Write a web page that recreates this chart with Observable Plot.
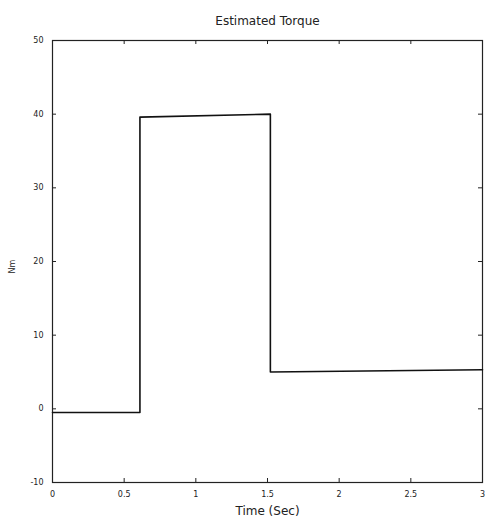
<!DOCTYPE html>
<html>
<head>
<meta charset="utf-8">
<script src="https://cdn.jsdelivr.net/npm/d3@7"></script>
<script src="https://cdn.jsdelivr.net/npm/@observablehq/plot@0.6"></script>
<style>
body { margin: 0; background: #fff; }
#chart svg { display: block; }
</style>
</head>
<body>
<div id="chart"></div>
<script>
const title = "Estimated Torque";
const xLabel = "Time (Sec)";
const yLabel = "Nm";
const xTicks = [0, 0.5, 1, 1.5, 2, 2.5, 3];
const yTicks = [-10, 0, 10, 20, 30, 40, 50];
const time = [0, 0.61, 0.61, 1.52, 1.52, 3];
const torque = [-0.5, -0.5, 39.6, 40.0, 5.0, 5.3];

const data = time.map((t, i) => ({t, v: torque[i]}));
const fmt = d => String(d);

const plot = Plot.plot({
  width: 485,
  height: 528,
  marginTop: 40,
  marginBottom: 46,
  marginLeft: 52,
  marginRight: 3,
  style: {fontFamily: "DejaVu Sans, sans-serif", fontSize: "8px", background: "#fff", color: "#222"},
  x: {domain: [0, 3], label: null},
  y: {domain: [-10, 50], label: null},
  marks: [
    Plot.frame({stroke: "#222", strokeWidth: 1.2}),
    Plot.axisX({ticks: xTicks, tickSize: 0, tickPadding: 9, tickFormat: fmt, label: null, fontSize: 8}),
    Plot.axisY({ticks: yTicks, tickSize: 0, tickPadding: 9, tickFormat: fmt, label: null, fontSize: 8}),
    Plot.tickX(xTicks, {x: d => d, insetTop: 438, stroke: "#222"}),
    Plot.tickX(xTicks, {x: d => d, insetBottom: 438, stroke: "#222"}),
    Plot.tickY(yTicks, {y: d => d, insetRight: 426, stroke: "#222"}),
    Plot.tickY(yTicks, {y: d => d, insetLeft: 426, stroke: "#222"}),
    Plot.line(data, {x: "t", y: "v", stroke: "#111", strokeWidth: 1.6}),
    Plot.text([title], {frameAnchor: "top", dy: -24, fontSize: 12, fill: "#222"}),
    Plot.text([xLabel], {frameAnchor: "bottom", dy: 32, fontSize: 12, fill: "#222"}),
    Plot.text([yLabel], {frameAnchor: "left", dx: -40, dy: 12, rotate: -90, fontSize: 8, fill: "#222"})
  ]
});
document.getElementById("chart").appendChild(plot);
</script>
</body>
</html>
